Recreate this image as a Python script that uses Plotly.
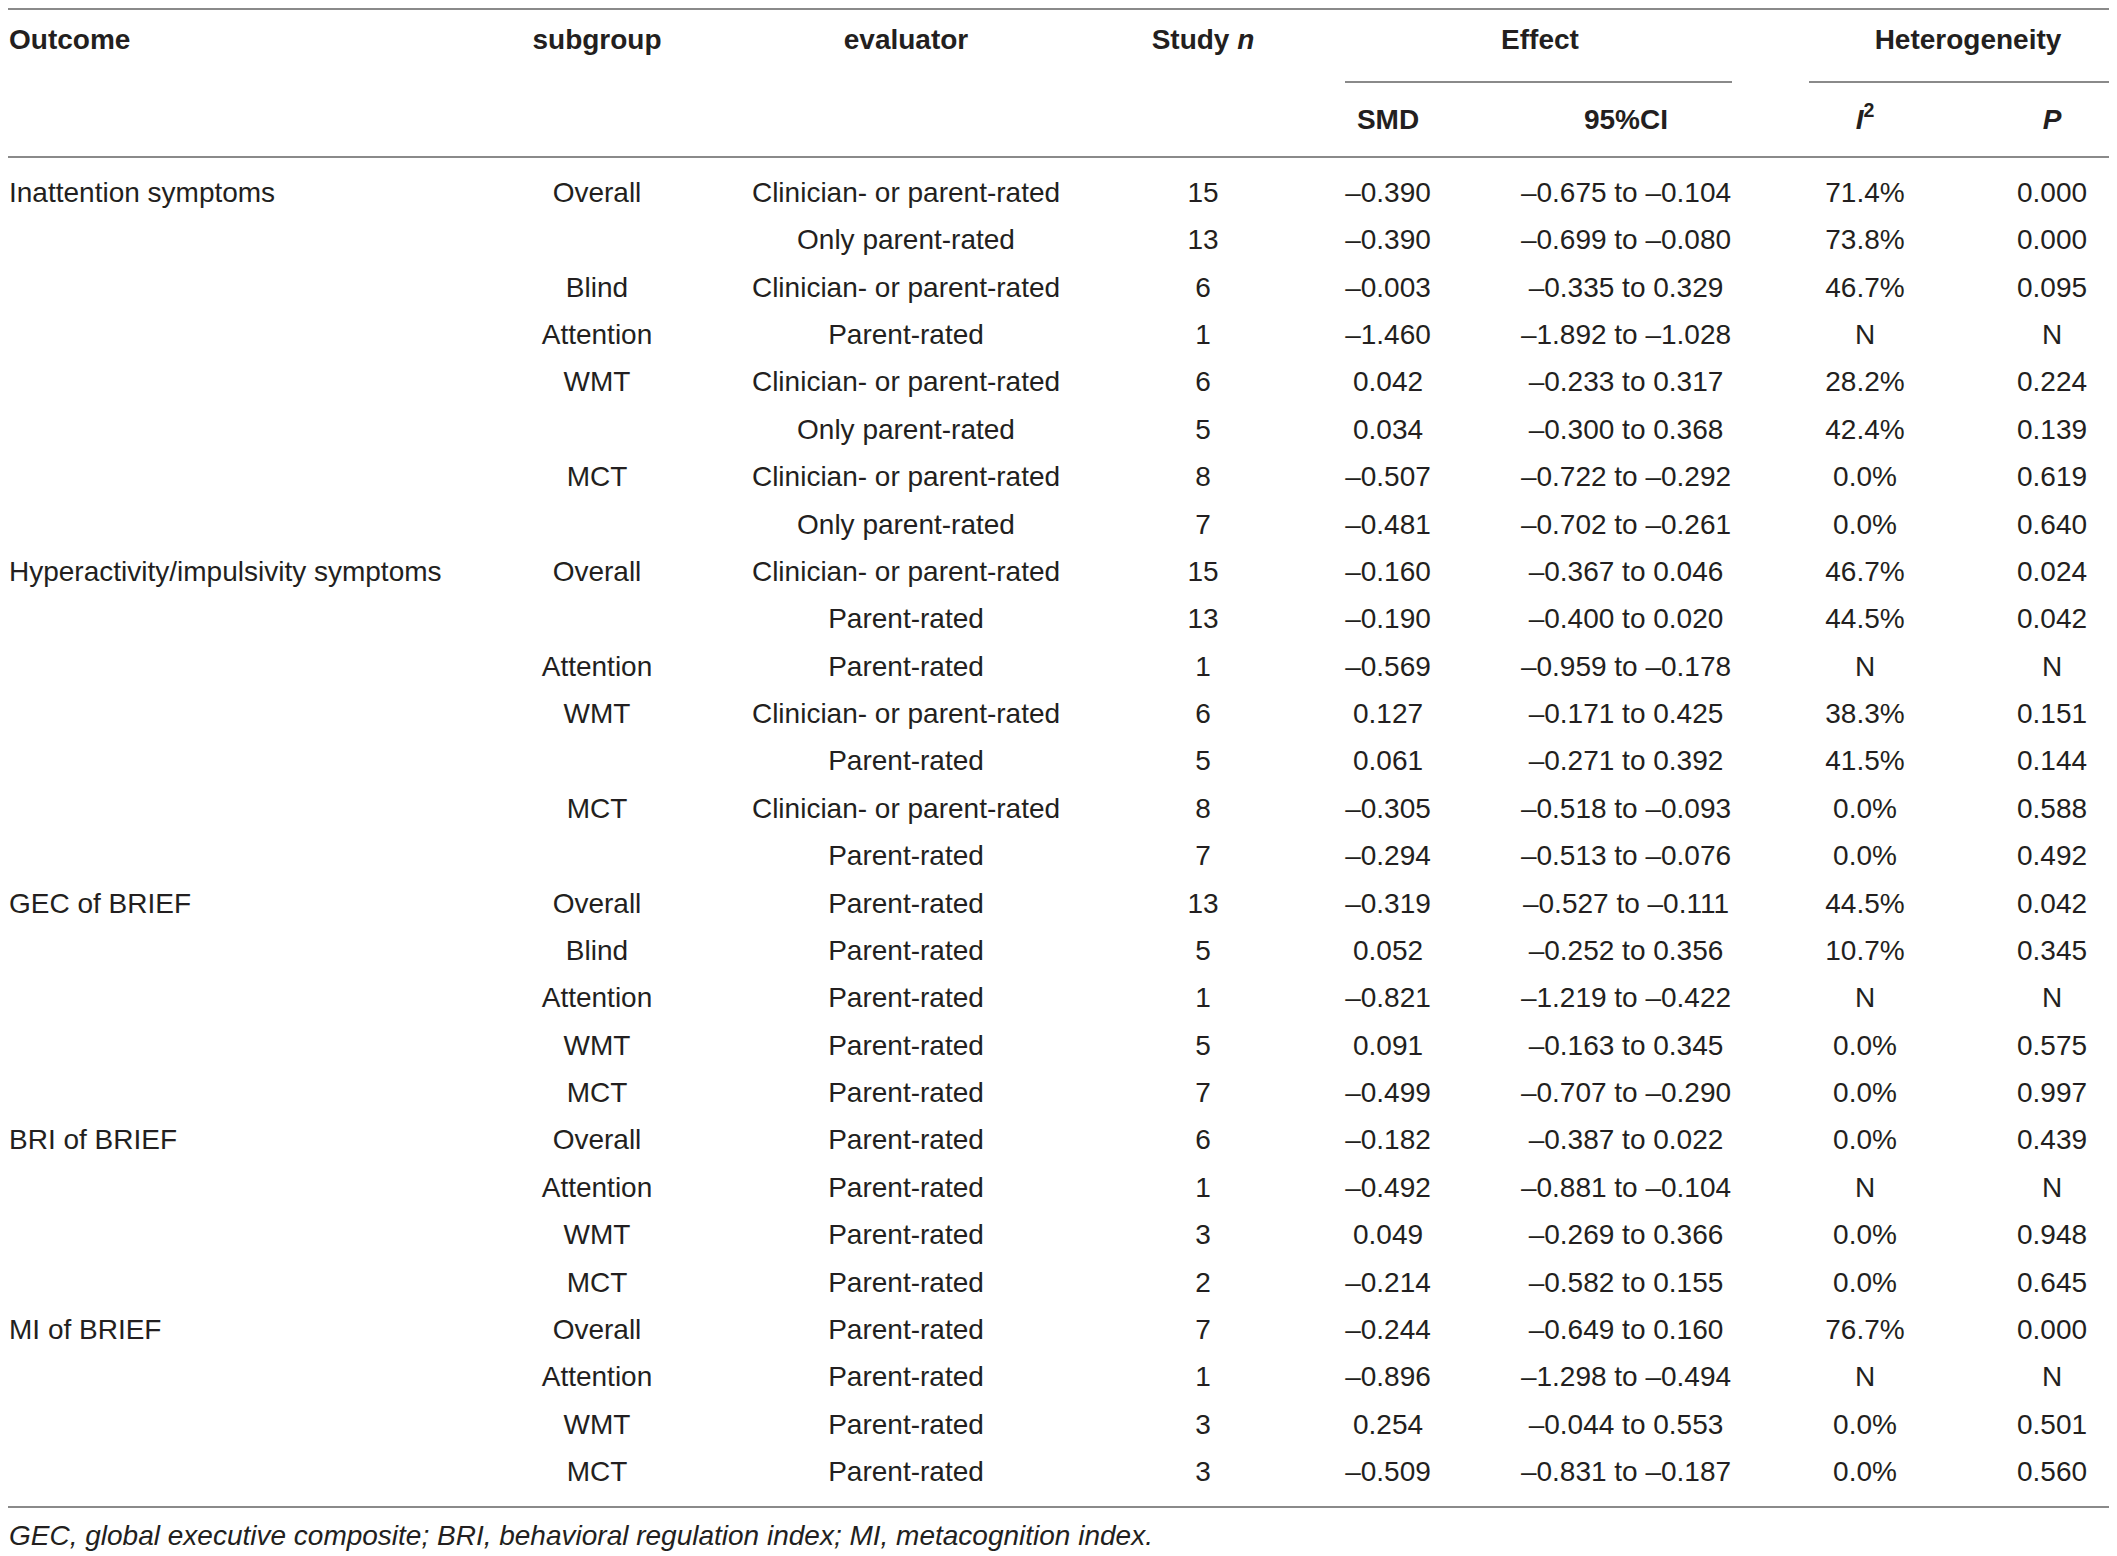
import plotly.graph_objects as go

# ---- table data ----
outcomes = [
    "Inattention symptoms", "", "", "", "", "", "", "",
    "Hyperactivity/impulsivity symptoms", "", "", "", "", "", "",
    "GEC of BRIEF", "", "", "", "",
    "BRI of BRIEF", "", "", "",
    "MI of BRIEF", "", "", "",
]
subgroups = [
    "Overall", "", "Blind", "Attention", "WMT", "", "MCT", "",
    "Overall", "", "Attention", "WMT", "", "MCT", "",
    "Overall", "Blind", "Attention", "WMT", "MCT",
    "Overall", "Attention", "WMT", "MCT",
    "Overall", "Attention", "WMT", "MCT",
]
evaluators = [
    "Clinician- or parent-rated", "Only parent-rated", "Clinician- or parent-rated", "Parent-rated",
    "Clinician- or parent-rated", "Only parent-rated", "Clinician- or parent-rated", "Only parent-rated",
    "Clinician- or parent-rated", "Parent-rated", "Parent-rated", "Clinician- or parent-rated",
    "Parent-rated", "Clinician- or parent-rated", "Parent-rated",
    "Parent-rated", "Parent-rated", "Parent-rated", "Parent-rated", "Parent-rated",
    "Parent-rated", "Parent-rated", "Parent-rated", "Parent-rated",
    "Parent-rated", "Parent-rated", "Parent-rated", "Parent-rated",
]
study_n = [15, 13, 6, 1, 6, 5, 8, 7,
           15, 13, 1, 6, 5, 8, 7,
           13, 5, 1, 5, 7,
           6, 1, 3, 2,
           7, 1, 3, 3]
smd = ["–0.390", "–0.390", "–0.003", "–1.460", "0.042", "0.034", "–0.507", "–0.481",
       "–0.160", "–0.190", "–0.569", "0.127", "0.061", "–0.305", "–0.294",
       "–0.319", "0.052", "–0.821", "0.091", "–0.499",
       "–0.182", "–0.492", "0.049", "–0.214",
       "–0.244", "–0.896", "0.254", "–0.509"]
ci95 = ["–0.675 to –0.104", "–0.699 to –0.080", "–0.335 to 0.329", "–1.892 to –1.028",
        "–0.233 to 0.317", "–0.300 to 0.368", "–0.722 to –0.292", "–0.702 to –0.261",
        "–0.367 to 0.046", "–0.400 to 0.020", "–0.959 to –0.178", "–0.171 to 0.425",
        "–0.271 to 0.392", "–0.518 to –0.093", "–0.513 to –0.076",
        "–0.527 to –0.111", "–0.252 to 0.356", "–1.219 to –0.422", "–0.163 to 0.345",
        "–0.707 to –0.290",
        "–0.387 to 0.022", "–0.881 to –0.104", "–0.269 to 0.366", "–0.582 to 0.155",
        "–0.649 to 0.160", "–1.298 to –0.494", "–0.044 to 0.553", "–0.831 to –0.187"]
i2 = ["71.4%", "73.8%", "46.7%", "N", "28.2%", "42.4%", "0.0%", "0.0%",
      "46.7%", "44.5%", "N", "38.3%", "41.5%", "0.0%", "0.0%",
      "44.5%", "10.7%", "N", "0.0%", "0.0%",
      "0.0%", "N", "0.0%", "0.0%",
      "76.7%", "N", "0.0%", "0.0%"]
p_values = ["0.000", "0.000", "0.095", "N", "0.224", "0.139", "0.619", "0.640",
            "0.024", "0.042", "N", "0.151", "0.144", "0.588", "0.492",
            "0.042", "0.345", "N", "0.575", "0.997",
            "0.439", "N", "0.948", "0.645",
            "0.000", "N", "0.501", "0.560"]

header_top = ["<b>Outcome</b>", "<b>subgroup</b>", "<b>evaluator</b>", "<b>Study <i>n</i></b>",
              "<b>Effect</b>", "<b>Heterogeneity</b>"]
header_sub = ["<b>SMD</b>", "<b>95%CI</b>", "<b><i>I</i><sup>2</sup></b>", "<b><i>P</i></b>"]
footnote = "GEC, global executive composite; BRI, behavioral regulation index; MI, metacognition index."

# ---- layout geometry (page pixels) ----
W, H = 2117, 1556
OFF = 8          # page body margin, compensated in the axis ranges
FONT = "Liberation Sans"
TXT = "#231f20"
LINE = "#8a8a8a"
FS = 28

x_outcome = 9
col_x = [597, 906, 1203, 1388, 1626, 1865, 2052]   # subgroup .. P
effect_x, hetero_x = 1540, 1968
y_head1, y_head2 = 42, 122
row0, row_h = 195, 47.37
row_y = [row0 + i * row_h for i in range(len(smd))]

fig = go.Figure()

def add_text(xs, ys, texts, pos="middle center", size=FS):
    # skip blank cells
    pts = [(x, y, t) for x, y, t in zip(xs, ys, texts) if t]
    fig.add_trace(go.Scatter(
        x=[p[0] for p in pts], y=[p[1] for p in pts], text=[p[2] for p in pts],
        mode="text", textposition=pos, cliponaxis=False,
        textfont=dict(family=FONT, size=size, color=TXT),
        hoverinfo="skip", showlegend=False,
    ))

# header
add_text([x_outcome], [y_head1], [header_top[0]], pos="middle right")
add_text([col_x[0], col_x[1], col_x[2], effect_x, hetero_x], [y_head1] * 5, header_top[1:])
add_text(col_x[3:], [y_head2] * 4, header_sub)

# body
add_text([x_outcome] * len(outcomes), row_y, outcomes, pos="middle right")
columns = [subgroups, evaluators, [str(v) for v in study_n], smd, ci95, i2, p_values]
for cx, vals in zip(col_x, columns):
    add_text([cx] * len(vals), row_y, vals)

# footnote
add_text([x_outcome], [1538], ["<i>" + footnote + "</i>"], pos="middle right")

# rules
rules = [(0, W + OFF, 9), (1345, 1732, 82), (1809, W + OFF, 82), (0, W + OFF, 157), (0, W + OFF, 1507)]
for x0, x1, y in rules:
    fig.add_shape(type="line", x0=x0, x1=x1, y0=y, y1=y, xref="x", yref="y",
                  line=dict(color=LINE, width=2))

fig.update_layout(
    width=W, height=H,
    margin=dict(l=0, r=0, t=0, b=0),
    paper_bgcolor="white", plot_bgcolor="white",
    xaxis=dict(range=[OFF, W + OFF], visible=False, fixedrange=True),
    yaxis=dict(range=[H + OFF, OFF], visible=False, fixedrange=True),
)

fig.write_html("out.html")
